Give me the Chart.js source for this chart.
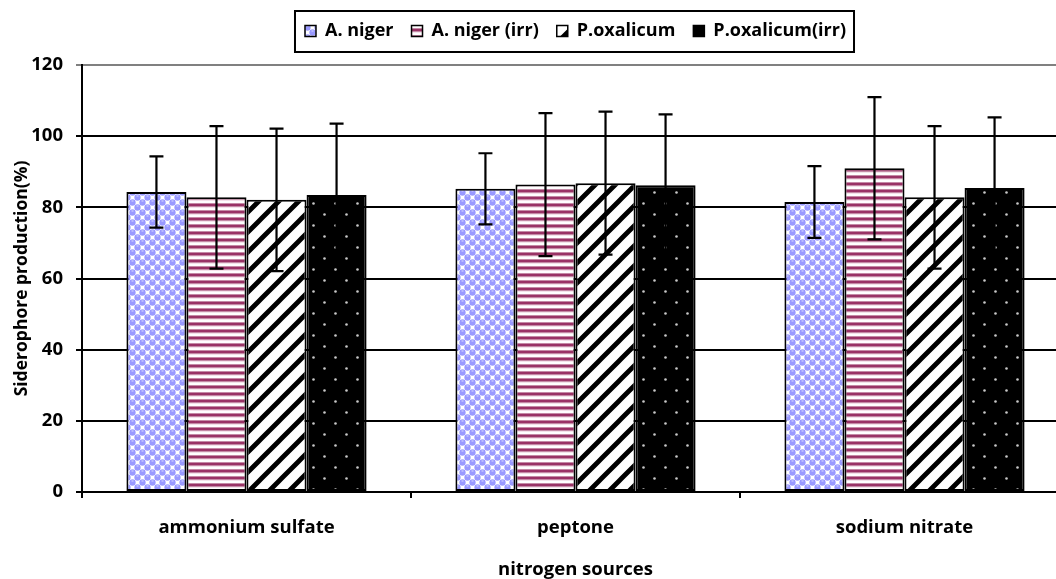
<!DOCTYPE html>
<html>
<head>
<meta charset="utf-8">
<script src="https://cdn.jsdelivr.net/npm/chart.js@4/dist/chart.umd.min.js"></script>
<style>
  html, body { margin: 0; padding: 0; overflow: hidden; background: #fff; }
  #wrap { position: relative; width: 1075px; height: 579px; }
</style>
</head>
<body>
<div id="wrap"><canvas id="c"></canvas></div>
<script>
// ---- data ----
const categories = ['ammonium sulfate', 'peptone', 'sodium nitrate'];
const seriesNames = ['A. niger', 'A. niger (irr)', 'P.oxalicum', 'P.oxalicum(irr)'];
const aNiger      = [84.3, 85.2, 81.5];
const aNigerIrr   = [82.8, 86.4, 91.0];
const pOxalicum   = [82.1, 86.8, 82.8];
const pOxalicumIrr= [83.5, 86.2, 85.4];
const errANiger      = [10.0, 10.0, 10.1];
const errANigerIrr   = [20.0, 20.1, 20.0];
const errPOxalicum   = [20.0, 20.1, 20.0];
const errPOxalicumIrr= [20.0, 19.9, 19.9];
const yTicks = [0, 20, 40, 60, 80, 100, 120];

// ---- patterns ----
function makePattern(w, h, draw) {
  const cv = document.createElement('canvas');
  cv.width = w; cv.height = h;
  const g = cv.getContext('2d');
  draw(g, w, h);
  return document.getElementById('c').getContext('2d').createPattern(cv, 'repeat');
}
const patBlue = makePattern(10, 10, (g) => {
  g.fillStyle = '#ffffff'; g.fillRect(0, 0, 10, 10);
  g.fillStyle = '#9999ff';
  g.fillRect(0, 0, 5, 5); g.fillRect(5, 5, 5, 5);
  [[2.5, 2.5], [7.5, 7.5], [12.5, 2.5], [-2.5, 7.5], [2.5, 12.5], [7.5, -2.5]].forEach(([x, y]) => {
    g.beginPath(); g.arc(x, y, 3.15, 0, Math.PI * 2); g.fill();
  });
  g.fillStyle = '#dcdcff';
  g.fillRect(1.5, 0.5, 2, 1); g.fillRect(6.5, 5.5, 2, 1);
});
const patStripe = makePattern(8, 7, (g) => {
  g.fillStyle = '#ffffff'; g.fillRect(0, 0, 8, 7);
  g.fillStyle = '#c48aa6'; g.fillRect(0, 0, 8, 1); g.fillRect(0, 3, 8, 1);
  g.fillStyle = '#993366'; g.fillRect(0, 1, 8, 2);
  g.fillStyle = '#f3e3ea'; g.fillRect(0, 4, 8, 1);
});
const patDiag = makePattern(20, 20, (g) => {
  g.fillStyle = '#ffffff'; g.fillRect(0, 0, 20, 20);
  g.strokeStyle = '#000000'; g.lineWidth = 4.8;
  g.beginPath();
  g.moveTo(-5, 25); g.lineTo(25, -5);
  g.moveTo(-10, 10); g.lineTo(10, -10);
  g.moveTo(10, 30); g.lineTo(30, 10);
  g.stroke();
});
const patDots = makePattern(22, 22, (g) => {
  g.fillStyle = '#000000'; g.fillRect(0, 0, 22, 22);
  g.fillStyle = '#c8c8c8';
  g.beginPath(); g.arc(5.5, 5.5, 1.3, 0, Math.PI * 2); g.fill();
  g.beginPath(); g.arc(16.5, 16.5, 1.3, 0, Math.PI * 2); g.fill();
});

const FONT = 'Open Sans';
Chart.defaults.font.family = FONT;
Chart.defaults.color = '#000';

const errorSets = [errANiger, errANigerIrr, errPOxalicum, errPOxalicumIrr];

const errorBarPlugin = {
  id: 'errorBars',
  afterDatasetsDraw(chart) {
    const ctx = chart.ctx, y = chart.scales.y;
    chart.data.datasets.forEach((ds, i) => {
      const meta = chart.getDatasetMeta(i);
      const errs = errorSets[i];
      meta.data.forEach((bar, j) => {
        const v = ds.data[j], e = errs[j];
        const t = y.getPixelForValue(v + e), b = y.getPixelForValue(v - e);
        ctx.save();
        ctx.strokeStyle = '#000'; ctx.lineWidth = 2.2;
        ctx.beginPath();
        ctx.moveTo(bar.x, t); ctx.lineTo(bar.x, b);
        ctx.moveTo(bar.x - 7, t); ctx.lineTo(bar.x + 7, t);
        ctx.moveTo(bar.x - 7, b); ctx.lineTo(bar.x + 7, b);
        ctx.stroke();
        ctx.restore();
      });
    });
  }
};

const legendFramePlugin = {
  id: 'legendFrame',
  beforeLayout(chart) {
    const lg = chart.legend;
    if (lg && !lg._patched) {
      const f = lg.fit;
      lg.fit = function () { f.call(this); this.height = 65; };
      lg._patched = true;
    }
  },
  afterLayout(chart) {
    const lg = chart.legend;
    if (lg) {
      lg.left = chart.chartArea.left;
      lg.right = chart.chartArea.right;
      lg.width = lg.right - lg.left;
      lg.top = 4;
    }
  },
  afterDraw(chart) {
    const lg = chart.legend;
    if (!lg || !lg.legendHitBoxes || !lg.legendHitBoxes.length) return;
    const hb = lg.legendHitBoxes;
    let l = Infinity, r = -Infinity;
    hb.forEach(h => { l = Math.min(l, h.left); r = Math.max(r, h.left + h.width); });
    const ctx = chart.ctx;
    ctx.save();
    ctx.strokeStyle = '#000'; ctx.lineWidth = 2;
    ctx.strokeRect(l - 10, 11, (r - l) + 18, 41);
    ctx.restore();
  }
};

new Chart(document.getElementById('c'), {
  type: 'bar',
  data: {
    labels: categories,
    datasets: [
      { label: seriesNames[0], data: aNiger, backgroundColor: patBlue },
      { label: seriesNames[1], data: aNigerIrr, backgroundColor: patStripe },
      { label: seriesNames[2], data: pOxalicum, backgroundColor: patDiag },
      { label: seriesNames[3], data: pOxalicumIrr, backgroundColor: patDots }
    ].map(d => Object.assign(d, { borderColor: '#000', borderWidth: 2, borderSkipped: false,
                                   categoryPercentage: 0.73, barPercentage: 1.0 }))
  },
  options: {
    responsive: true,
    maintainAspectRatio: false,
    animation: false,
    layout: { padding: { left: 0, right: 6, top: 0, bottom: 0 } },
    plugins: {
      tooltip: { enabled: false },
      legend: {
        position: 'top',
        align: 'center',
        labels: {
          boxWidth: 11, boxHeight: 11, padding: 18,
          font: { size: 18, weight: 'bold', family: FONT },
          color: '#000',
          generateLabels(chart) {
            const items = Chart.defaults.plugins.legend.labels.generateLabels(chart);
            items.forEach(it => { it.lineWidth = 1.5; });
            return items;
          }
        }
      }
    },
    scales: {
      x: {
        offset: true,
        grid: { display: true, offset: true, drawOnChartArea: false, drawTicks: true, tickLength: 6, color: '#000', lineWidth: 2 },
        border: { display: true, color: '#000', width: 2 },
        ticks: { font: { size: 18.5, weight: 'bold', family: FONT }, color: '#000', padding: 19, maxRotation: 0 },
        title: { display: true, text: 'nitrogen sources', color: '#000',
                 font: { size: 18.5, weight: 'bold', family: FONT, lineHeight: 1 }, padding: { top: 0, bottom: 0 } },
        afterFit(s) { s.height = 87; }
      },
      y: {
        min: 0, max: 120,
        afterBuildTicks(s) { s.ticks = yTicks.map(v => ({ value: v })); },
        grid: {
          drawTicks: true, tickLength: 6, lineWidth: 2,
          color: (c) => (c.tick && c.tick.value === 120) ? '#808080' : '#000'
        },
        border: { display: true, color: '#000', width: 2 },
        ticks: { font: { size: 18.5, weight: 'bold', family: FONT }, color: '#000', padding: 13 },
        title: { display: true, text: 'Siderophore production(%)', color: '#000',
                 font: { size: 17.5, weight: 'bold', family: FONT, lineHeight: 1 }, padding: { top: 13, bottom: 0 } },
        afterFit(s) { s.width = 82; }
      }
    }
  },
  plugins: [errorBarPlugin, legendFramePlugin]
});
</script>
</body>
</html>
